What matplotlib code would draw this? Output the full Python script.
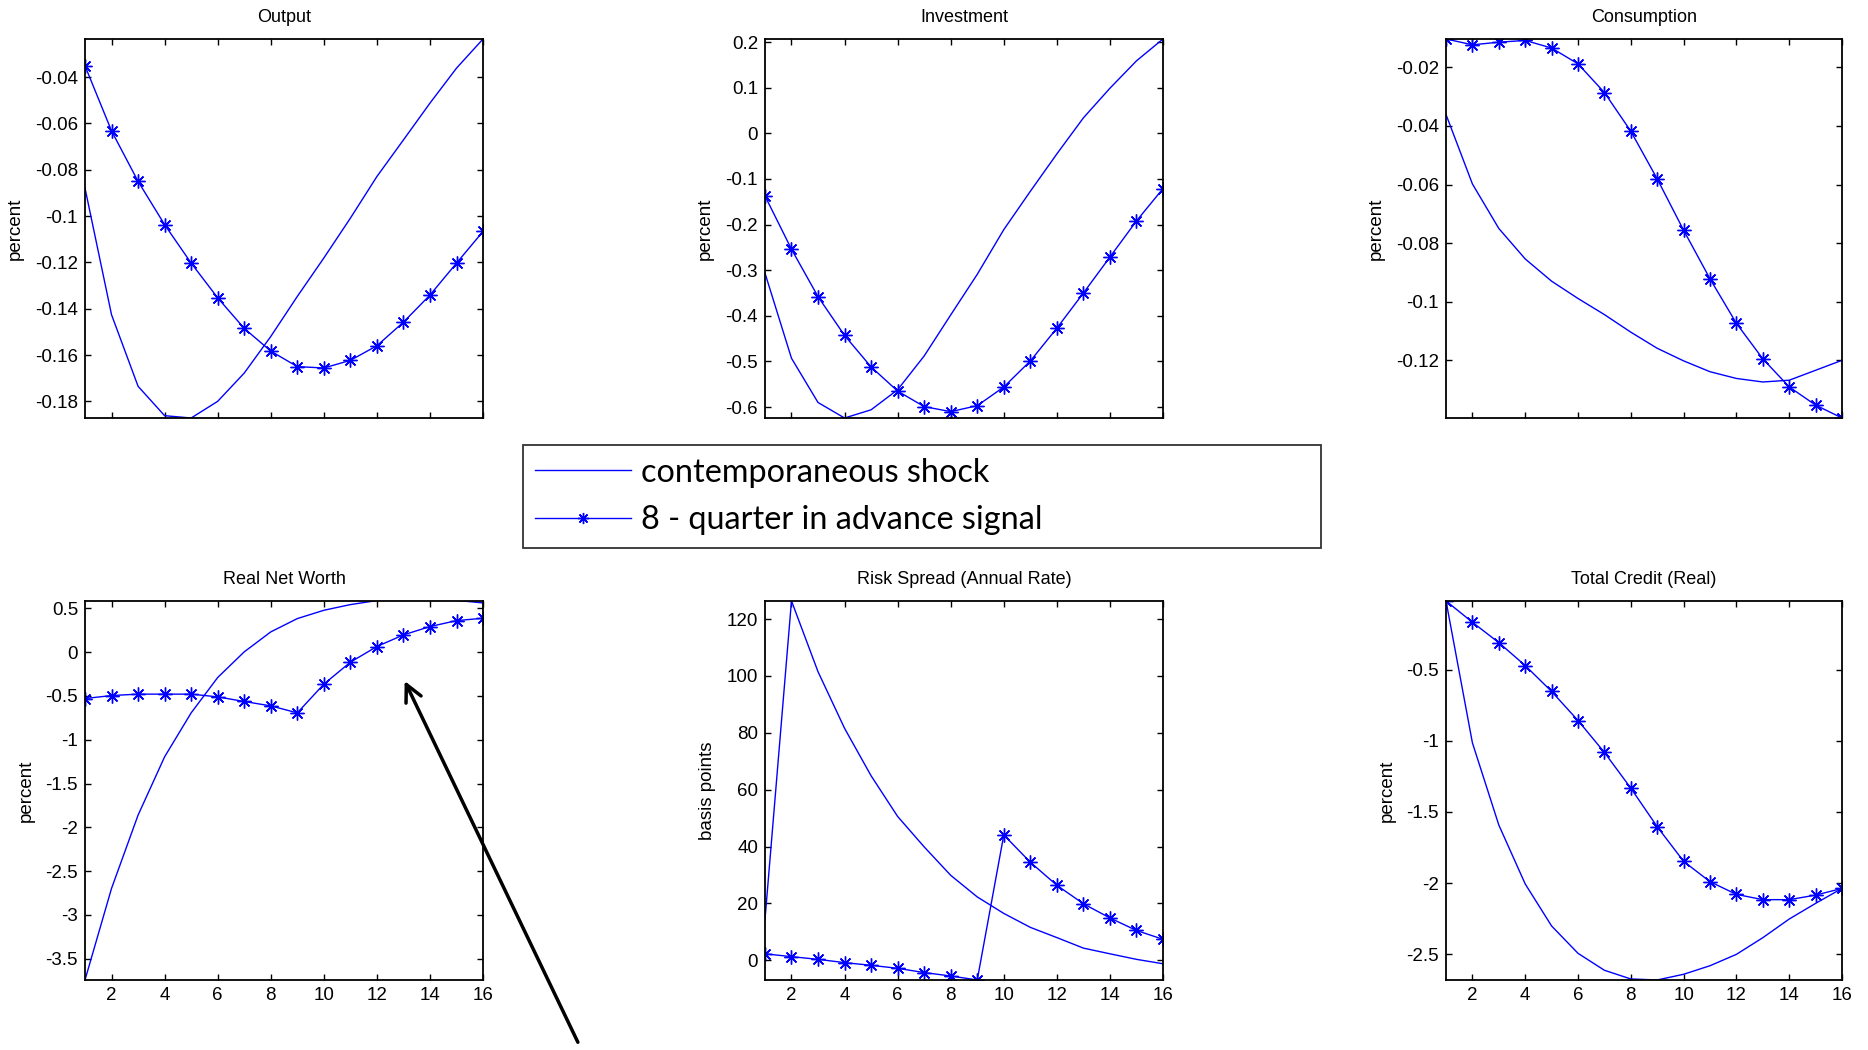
import numpy as np
import matplotlib
matplotlib.use("Agg")
import matplotlib.pyplot as plt
import matplotlib.ticker as mticker

plt.rcParams['font.family'] = ['Liberation Sans', 'DejaVu Sans']

# ---- data ----
quarters = list(range(1, 17))

output_now = [-0.0879, -0.1426, -0.1735, -0.1862, -0.1872, -0.1800, -0.1678, -0.1520,
              -0.1347, -0.1181, -0.1009, -0.0829, -0.0671, -0.0512, -0.0361, -0.0235]
output_sig = [-0.0351, -0.0632, -0.0850, -0.1037, -0.1203, -0.1353, -0.1485, -0.1583,
              -0.1650, -0.1656, -0.1623, -0.1560, -0.1458, -0.1341, -0.1203, -0.1066]

invest_now = [-0.306, -0.493, -0.590, -0.624, -0.606, -0.562, -0.488, -0.398,
              -0.309, -0.211, -0.127, -0.045, 0.034, 0.099, 0.159, 0.207]
invest_sig = [-0.137, -0.254, -0.358, -0.443, -0.512, -0.565, -0.599, -0.610,
              -0.597, -0.556, -0.499, -0.427, -0.350, -0.271, -0.192, -0.121]

cons_now = [-0.0361, -0.0598, -0.0750, -0.0854, -0.0930, -0.0989, -0.1044, -0.1104,
            -0.1159, -0.1202, -0.1239, -0.1262, -0.1274, -0.1268, -0.1234, -0.1200]
cons_sig = [-0.0103, -0.0123, -0.0114, -0.0108, -0.0134, -0.0188, -0.0286, -0.0418,
            -0.0581, -0.0756, -0.0922, -0.1074, -0.1195, -0.1291, -0.1353, -0.1397]

nw_now = [-3.744, -2.698, -1.861, -1.195, -0.693, -0.289, 0.004, 0.232,
          0.384, 0.479, 0.544, 0.590, 0.615, 0.615, 0.592, 0.563]
nw_sig = [-0.529, -0.495, -0.479, -0.479, -0.479, -0.510, -0.563, -0.613,
          -0.693, -0.365, -0.114, 0.065, 0.198, 0.293, 0.361, 0.388]

spread_now = [14.2, 126.4, 101.5, 81.6, 64.9, 50.6, 39.9, 29.9,
              22.3, 16.5, 11.6, 8.0, 4.3, 2.3, 0.35, -1.2]
spread_sig = [2.3, 1.3, 0.35, -0.8, -1.75, -2.8, -4.3, -5.5,
              -6.9, 44.1, 34.5, 26.4, 19.9, 14.9, 10.5, 7.4]

credit_now = [-0.018, -1.015, -1.592, -2.006, -2.301, -2.493, -2.612, -2.673,
              -2.680, -2.640, -2.580, -2.500, -2.383, -2.252, -2.142, -2.037]
credit_sig = [-0.018, -0.168, -0.311, -0.472, -0.654, -0.858, -1.082, -1.333,
              -1.604, -1.847, -1.990, -2.079, -2.116, -2.116, -2.084, -2.037]

titles = ["Output", "Investment", "Consumption",
          "Real Net Worth", "Risk Spread (Annual Rate)", "Total Credit (Real)"]
ylabels = ["percent", "percent", "percent", "percent", "basis points", "percent"]
series = [(output_now, output_sig), (invest_now, invest_sig), (cons_now, cons_sig),
          (nw_now, nw_sig), (spread_now, spread_sig), (credit_now, credit_sig)]
yticks = [np.arange(-0.18, -0.039, 0.02), np.arange(-0.6, 0.21, 0.1),
          np.arange(-0.12, -0.019, 0.02), np.arange(-3.5, 0.51, 0.5),
          np.arange(0, 121, 20), np.arange(-2.5, -0.49, 0.5)]
# net worth line runs off the top of its box in the original
ylims = [None, None, None, (-3.744, 0.586), None, None]

legend_labels = ["contemporaneous shock", "8 - quarter in advance signal"]

BLUE = "#0000ff"
AST = (8, 2, 0)


def fmt(v, p):
    return '%g' % (round(v, 6) + 0.0)


fig = plt.figure(figsize=(18.68, 10.5), dpi=100)

lefts = [0.0455, 0.4095, 0.7741]
widths = [0.2131, 0.2131, 0.2120]
bottoms = [0.6019, 0.0667]
H = 0.361

axes = []
for i in range(6):
    r, c = divmod(i, 3)
    ax = fig.add_axes([lefts[c], bottoms[r], widths[c], H])
    now, sig = series[i]
    l1, = ax.plot(quarters, now, color=BLUE, lw=1.0)
    l2, = ax.plot(quarters, sig, color=BLUE, lw=1.0, marker=AST, ms=10, mew=1.0)
    ax.set_xlim(1, 16)
    if ylims[i] is None:
        lo = min(min(now), min(sig))
        hi = max(max(now), max(sig))
        ax.set_ylim(lo, hi)
    else:
        ax.set_ylim(*ylims[i])
    ax.set_xticks(range(2, 17, 2))
    ax.set_yticks(yticks[i])
    ax.yaxis.set_major_formatter(mticker.FuncFormatter(fmt))
    ax.tick_params(direction='in', top=True, right=True, length=4, width=1,
                   labelsize=13.5, pad=5)
    if r == 0:
        ax.tick_params(labelbottom=False)
    for s in ax.spines.values():
        s.set_linewidth(1.3)
    ax.set_title(titles[i], fontsize=13, pad=12)
    ax.set_ylabel(ylabels[i], fontsize=13.5, labelpad=8)
    axes.append(ax)

leg = fig.legend([l1, l2], legend_labels, loc='center left',
                 bbox_to_anchor=(0.28, 0.48, 0.4272, 0.0943), mode='expand',
                 borderaxespad=0,
                 prop={'family': 'Lato', 'size': 23.3}, numpoints=1,
                 handlelength=2.95, handletextpad=0.3, borderpad=0.38,
                 labelspacing=0.55, fancybox=False, edgecolor='black',
                 markerscale=0.8)
leg.get_frame().set_linewidth(1.3)

# arrow pointing at the signal line in Real Net Worth
axes[3].annotate("", xy=(13, -0.3), xycoords='data',
                 xytext=(0.31, 0.005), textcoords='figure fraction',
                 arrowprops=dict(arrowstyle='->', lw=2.5, color='black',
                                 mutation_scale=30),
                 annotation_clip=False)

fig.savefig("out.png", dpi=100)
